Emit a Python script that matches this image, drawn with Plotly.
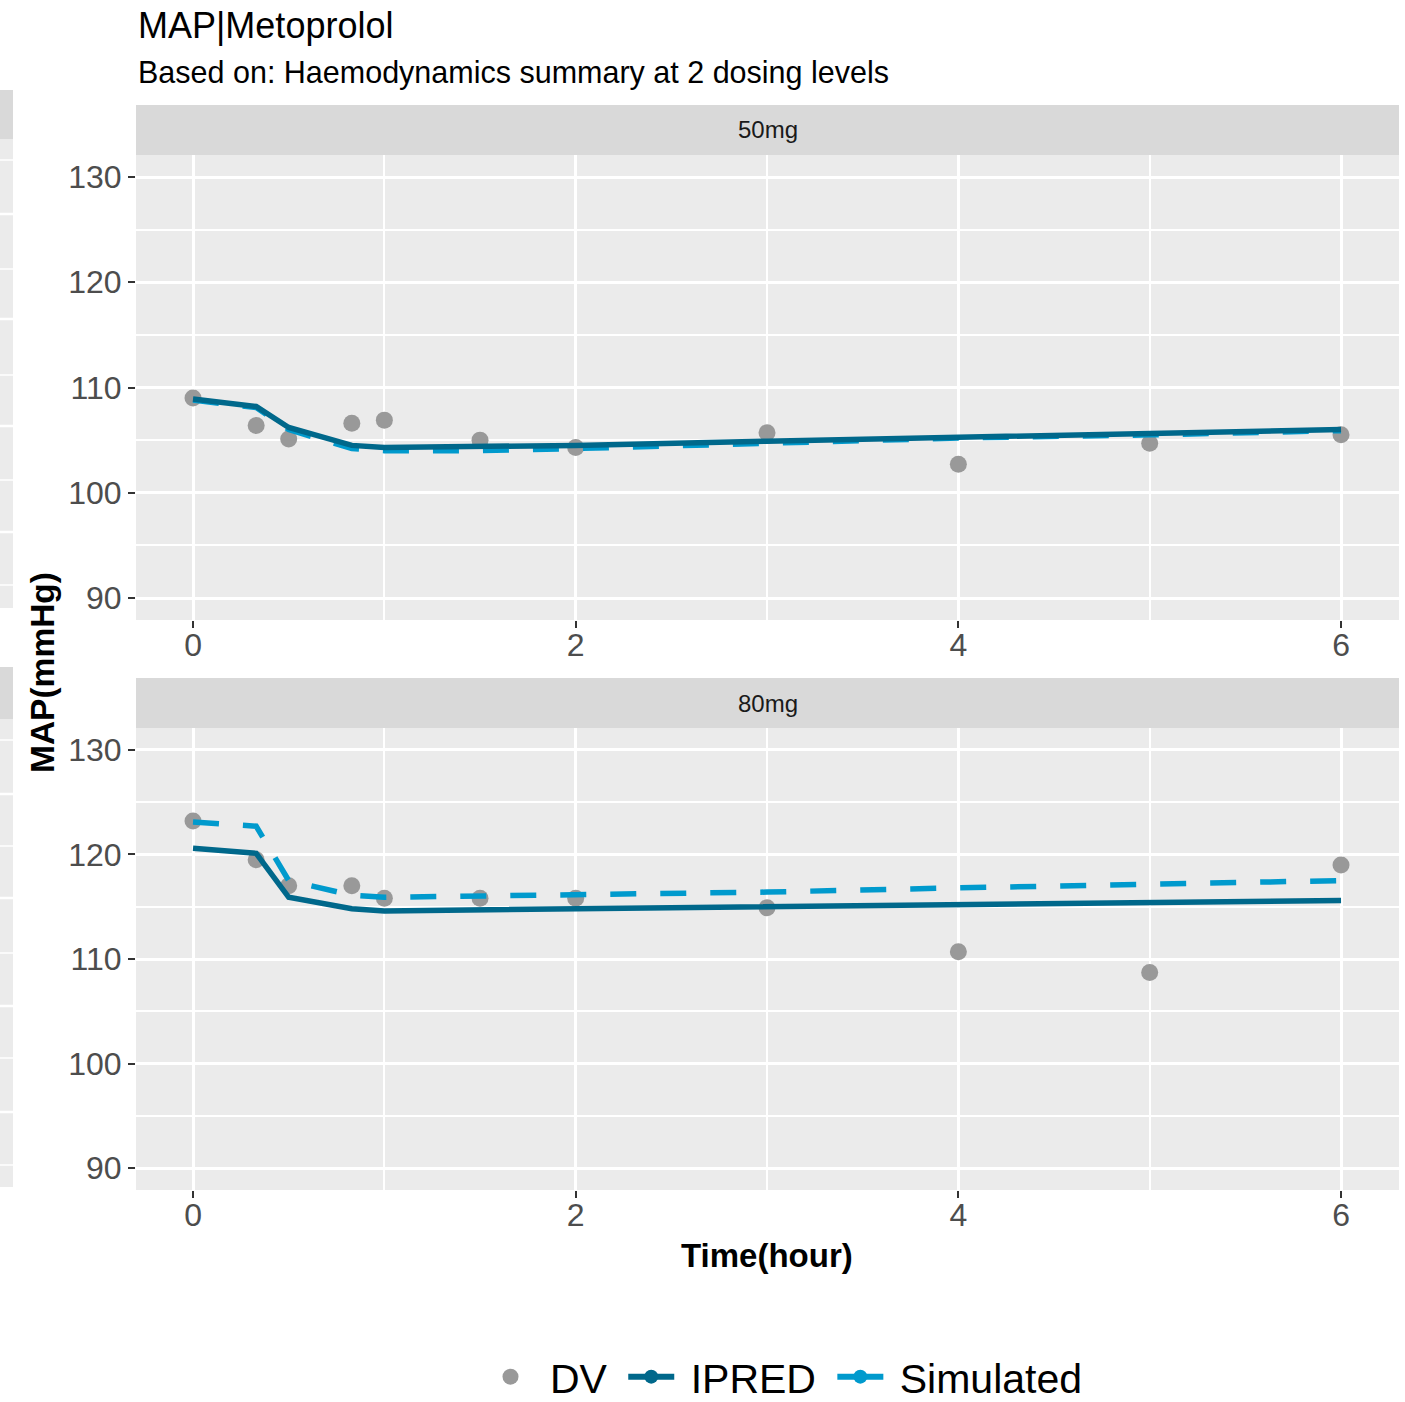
import plotly.graph_objects as go
from plotly.subplots import make_subplots

# ---- data -------------------------------------------------------------
time_obs = [0, 0.33, 0.5, 0.83, 1.0, 1.5, 2, 3, 4, 5, 6]

dv_50 = [109.0, 106.4, 105.1, 106.6, 106.9, 105.0, 104.3, 105.7, 102.7, 104.7, 105.5]
ipred_50 = [108.9, 108.2, 106.2, 104.5, 104.3, 104.4, 104.5, 104.9, 105.3, 105.6, 106.0]
sim_50 = [108.8, 108.1, 106.0, 104.2, 104.0, 104.0, 104.2, 104.7, 105.2, 105.5, 105.9]

dv_80 = [123.2, 119.5, 117.0, 117.0, 115.8, 115.8, 115.8, 114.9, 110.7, 108.7, 119.0]
ipred_80 = [120.6, 120.1, 115.9, 114.8, 114.6, 114.7, 114.8, 115.0, 115.2, 115.4, 115.6]
sim_80 = [123.1, 122.7, 117.5, 116.1, 115.9, 116.0, 116.2, 116.4, 116.8, 117.1, 117.5]

doses = ["50mg", "80mg"]
panels = [(dv_50, ipred_50, sim_50), (dv_80, ipred_80, sim_80)]

x_ticks = [0, 2, 4, 6]
y_ticks = [90, 100, 110, 120, 130]

# ---- styling ----------------------------------------------------------
COL_DV = "#999999"
COL_IPRED = "#00688B"
COL_SIM = "#009ACD"
PANEL_BG = "#EBEBEB"
STRIP_BG = "#D9D9D9"
FONT = "Liberation Sans, Arial, sans-serif"
NBSP = "\u00a0"

W, H = 1405, 1402
ML, MR, MT, MB = 136, 6, 155, 212
PW, PH = W - ML - MR, H - MT - MB


def py(pix):
    """pixel row -> paper y"""
    return (H - MB - pix) / PH


def px(pix):
    """pixel column -> paper x"""
    return (pix - ML) / PW


fig = make_subplots(rows=2, cols=1, shared_xaxes=False, vertical_spacing=0.0)

for i, (dv, ipred, sim) in enumerate(panels):
    row = i + 1
    fig.add_trace(go.Scatter(x=time_obs, y=dv, mode="markers", name="DV",
                             marker=dict(color=COL_DV, size=17),
                             showlegend=False), row=row, col=1)
    fig.add_trace(go.Scatter(x=time_obs, y=sim, mode="lines", name="Simulated",
                             line=dict(color=COL_SIM, width=5.5, dash="26px,24px"),
                             showlegend=False), row=row, col=1)
    fig.add_trace(go.Scatter(x=time_obs, y=ipred, mode="lines", name="IPRED",
                             line=dict(color=COL_IPRED, width=5.5),
                             showlegend=False), row=row, col=1)

# legend keys
fig.add_trace(go.Scatter(x=[None], y=[None], mode="markers", name=NBSP + "DV" + NBSP,
                         marker=dict(color=COL_DV, size=16)), row=1, col=1)
fig.add_trace(go.Scatter(x=[None], y=[None], mode="lines+markers",
                         name=NBSP + "IPRED" + NBSP,
                         line=dict(color=COL_IPRED, width=6),
                         marker=dict(color=COL_IPRED, size=14)), row=1, col=1)
fig.add_trace(go.Scatter(x=[None], y=[None], mode="lines+markers",
                         name=NBSP + "Simulated",
                         line=dict(color=COL_SIM, width=6),
                         marker=dict(color=COL_SIM, size=14)), row=1, col=1)

domains = [[py(620), 1.0], [0.0, py(728)]]
for i in range(2):
    ax = "" if i == 0 else str(i + 1)
    fig.layout["xaxis" + ax].update(
        domain=[0, 1], range=[-0.298, 6.303], tickvals=x_ticks,
        showgrid=True, gridcolor="white", gridwidth=3,
        minor=dict(dtick=1, tick0=0, showgrid=True, gridcolor="white", gridwidth=1.5),
        ticks="outside", ticklen=7, tickwidth=2, tickcolor="#333333",
        ticklabelstandoff=-10,
        tickfont=dict(family=FONT, size=32, color="#4D4D4D"),
        zeroline=False, showline=False, automargin=False)
    fig.layout["yaxis" + ax].update(
        domain=domains[i], range=[87.91, 132.09], tickvals=y_ticks,
        showgrid=True, gridcolor="white", gridwidth=3,
        minor=dict(dtick=5, tick0=0, showgrid=True, gridcolor="white", gridwidth=1.5),
        ticks="outside", ticklen=7, tickwidth=2, tickcolor="#333333",
        tickfont=dict(family=FONT, size=32, color="#4D4D4D"),
        zeroline=False, showline=False, automargin=False)

shapes = []
annotations = []

# facet strips
strip_rows = [(105, 155), (678, 728)]
for (top, bot), label in zip(strip_rows, doses):
    shapes.append(dict(type="rect", xref="paper", yref="paper", x0=0, x1=1,
                       y0=py(bot), y1=py(top), fillcolor=STRIP_BG, line_width=0,
                       layer="below"))
    annotations.append(dict(text=label, xref="paper", yref="paper", x=0.5,
                            y=py((top + bot) / 2), showarrow=False,
                            xanchor="center", yanchor="middle",
                            font=dict(family=FONT, size=24, color="#1A1A1A")))

# neighbouring panel edge on the far left
edge_blocks = [(90, 139, 608, [160, 214, 269, 319, 375, 426, 480, 532, 585]),
               (667, 719, 1187, [740, 794, 846, 898, 953, 1006, 1058, 1112, 1165])]
for s_top, s_bot, p_bot, lines in edge_blocks:
    shapes.append(dict(type="rect", xref="paper", yref="paper", x0=px(0), x1=px(13),
                       y0=py(s_bot), y1=py(s_top), fillcolor=STRIP_BG, line_width=0))
    shapes.append(dict(type="rect", xref="paper", yref="paper", x0=px(0), x1=px(13),
                       y0=py(p_bot), y1=py(s_bot), fillcolor=PANEL_BG, line_width=0))
    for k, yy in enumerate(lines):
        shapes.append(dict(type="line", xref="paper", yref="paper", x0=px(0), x1=px(13),
                           y0=py(yy), y1=py(yy),
                           line=dict(color="white", width=2.5 if k % 2 else 1.5)))

# titles
annotations.append(dict(text="MAP|Metoprolol", xref="paper", yref="paper",
                        x=0, y=py(26), xanchor="left", yanchor="middle", showarrow=False,
                        font=dict(family=FONT, size=36, color="#000000")))
annotations.append(dict(text="Based on: Haemodynamics summary at 2 dosing levels",
                        xref="paper", yref="paper", x=0, y=py(73), xanchor="left",
                        yanchor="middle", showarrow=False,
                        font=dict(family=FONT, size=30.5, color="#000000")))
annotations.append(dict(text="<b>Time(hour)</b>", xref="paper", yref="paper",
                        x=px(767), y=py(1255), xanchor="center", yanchor="middle",
                        showarrow=False, font=dict(family=FONT, size=33, color="#000000")))
annotations.append(dict(text="<b>MAP(mmHg)</b>", xref="paper", yref="paper",
                        x=px(42), y=py(673), xanchor="center", yanchor="middle",
                        textangle=-90, showarrow=False,
                        font=dict(family=FONT, size=33.5, color="#000000")))

fig.update_layout(
    width=W, height=H,
    margin=dict(l=ML, r=MR, t=MT, b=MB, autoexpand=False),
    paper_bgcolor="white", plot_bgcolor=PANEL_BG,
    shapes=shapes, annotations=annotations,
    showlegend=True,
    legend=dict(orientation="h", x=px(785), xanchor="center", y=py(1377),
                yanchor="middle", font=dict(family=FONT, size=41, color="#000000"),
                bgcolor="rgba(0,0,0,0)", itemwidth=46, tracegroupgap=0),
)

fig.write_html("out.html")
